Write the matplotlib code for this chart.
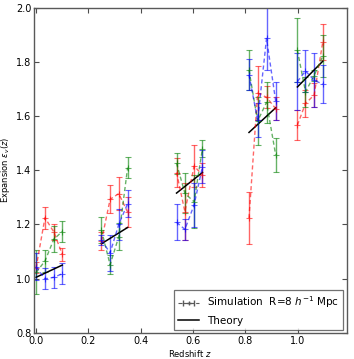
import matplotlib
matplotlib.use("Agg")
import matplotlib.pyplot as plt
import numpy as np

# redshift positions of the four snapshots inside each of the five groups
z_groups = [
    [0.0, 0.034, 0.068, 0.100],
    [0.250, 0.283, 0.316, 0.350],
    [0.537, 0.569, 0.604, 0.636],
    [0.814, 0.847, 0.881, 0.916],
    [0.999, 1.030, 1.063, 1.096],
]

red_vals = [
    [1.04, 1.225, 1.172, 1.09],
    [1.139, 1.293, 1.314, 1.246],
    [1.392, 1.247, 1.416, 1.383],
    [1.224, 1.685, 1.67, 1.628],
    [1.567, 1.647, 1.678, 1.874],
]
red_errs = [
    [0.02, 0.04, 0.031, 0.023],
    [0.034, 0.052, 0.062, 0.055],
    [0.053, 0.105, 0.077, 0.044],
    [0.097, 0.10, 0.04, 0.043],
    [0.055, 0.049, 0.044, 0.067],
]

green_vals = [
    [1.023, 1.065, 1.146, 1.174],
    [1.179, 1.051, 1.155, 1.41],
    [1.426, 1.315, 1.284, 1.48],
    [1.77, 1.582, 1.651, 1.457],
    [1.844, 1.69, 1.75, 1.822],
]
green_errs = [
    [0.081, 0.04, 0.047, 0.039],
    [0.049, 0.035, 0.05, 0.04],
    [0.038, 0.074, 0.098, 0.031],
    [0.074, 0.089, 0.076, 0.062],
    [0.117, 0.055, 0.02, 0.077],
]

blue_vals = [
    [1.044, 0.999, 1.005, 1.018],
    [1.142, 1.095, 1.2, 1.277],
    [1.208, 1.182, 1.272, 1.413],
    [1.753, 1.585, 1.887, 1.656],
    [1.728, 1.767, 1.733, 1.718],
]
blue_errs = [
    [0.05, 0.039, 0.038, 0.039],
    [0.018, 0.065, 0.059, 0.049],
    [0.067, 0.04, 0.081, 0.061],
    [0.057, 0.063, 0.117, 0.071],
    [0.105, 0.077, 0.099, 0.07],
]

# theory segments: start / end redshift and value
theory_z0 = [0.0, 0.25, 0.537, 0.814, 0.999]
theory_z1 = [0.1, 0.35, 0.636, 0.916, 1.096]
theory_e0 = [1.005, 1.129, 1.316, 1.54, 1.708]
theory_e1 = [1.05, 1.189, 1.392, 1.631, 1.803]

x_ticks = [0.0, 0.2, 0.4, 0.6, 0.8, 1.0]
y_ticks = [0.8, 1.0, 1.2, 1.4, 1.6, 1.8, 2.0]

fig = plt.figure(figsize=(3.54, 3.59), dpi=100)
ax = fig.add_axes([0.096, 0.073, 0.883, 0.905])

series = [
    (red_vals, red_errs, "red"),
    (green_vals, green_errs, "green"),
    (blue_vals, blue_errs, "blue"),
]
for vals, errs, col in series:
    for zg, v, e in zip(z_groups, vals, errs):
        ax.errorbar(zg, v, yerr=e, fmt="--", color=col, alpha=0.6,
                    lw=1.0, elinewidth=1.0, capsize=2.2, capthick=1.0,
                    marker="+", ms=4, mew=0.8, dashes=(3, 2))

for a, b, c, d in zip(theory_z0, theory_z1, theory_e0, theory_e1):
    ax.plot([a, b], [c, d], color="black", lw=1.1)

# legend proxies
h1 = ax.errorbar([np.nan], [np.nan], xerr=[0.01], fmt="--", color="0.35",
                 lw=0.8, capsize=2, marker="+", ms=3)
h2, = ax.plot([np.nan], [np.nan], color="black", lw=1.1)
leg = ax.legend([h1, h2], [r"Simulation  R=8 $h^{-1}$ Mpc", "Theory"],
                loc="lower right", fontsize=7.5, fancybox=False,
                borderaxespad=0.3, handlelength=2.0)
leg.get_frame().set_edgecolor("0.3")
leg.get_frame().set_linewidth(0.9)

ax.set_xlim(-0.008, 1.187)
ax.set_ylim(0.8, 2.0)
ax.set_xticks(x_ticks)
ax.set_yticks(y_ticks)
ax.set_xticklabels([f"{t:.1f}" for t in x_ticks])
ax.set_yticklabels([f"{t:.1f}" for t in y_ticks])
ax.tick_params(direction="in", top=True, right=True, length=3.5, width=0.8,
               labelsize=7, pad=2, color="0.3")
for s in ax.spines.values():
    s.set_color("0.35")
    s.set_linewidth(1.0)
ax.set_xlabel(r"Redshift $z$", fontsize=6, labelpad=2)
ax.set_ylabel(r"Expansion $\epsilon_v(z)$", fontsize=6, labelpad=3)

fig.savefig("out.png", dpi=100)
